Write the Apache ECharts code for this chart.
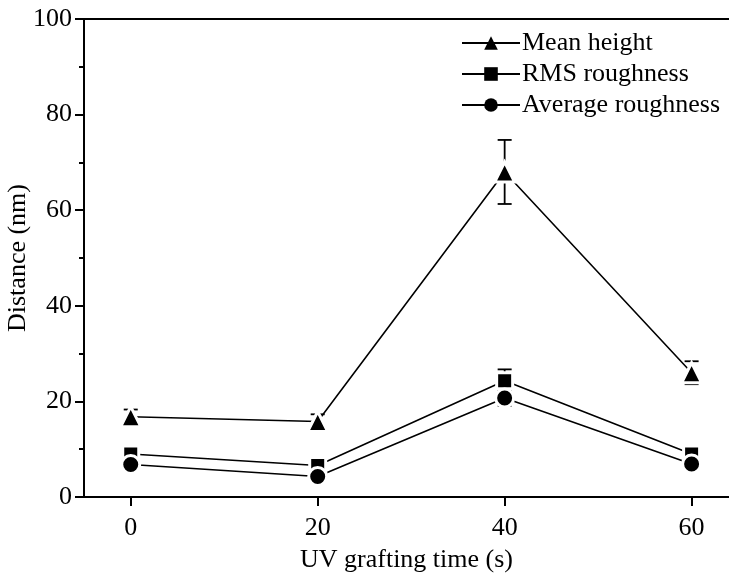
<!DOCTYPE html>
<html>
<head>
<meta charset="utf-8">
<script src="https://cdn.jsdelivr.net/npm/echarts@6/dist/echarts.min.js"></script>
<style>
    html, body { margin: 0; padding: 0; background: #fff; }
    #chart { width: 729px; height: 580px; }
</style>
</head>
<body>
<div id="chart"></div>
<script>
// UV grafting time (s)
var times = [0, 20, 40, 60];
// 平均高度 / RMS / 平均粗糙度 (nm)
var meanHeight = [16.8, 15.8, 68.0, 26.0];
var meanHeightErr = [1.5, 1.5, 6.7, 2.4];
var rmsRoughness = [9.0, 6.6, 24.3, 9.0];
var rmsRoughnessErr = [0.8, 0.8, 2.4, 0.8];
var avgRoughness = [6.8, 4.3, 20.7, 6.9];
var avgRoughnessErr = [0.6, 0.6, 1.6, 0.6];
var xTicks = [0, 20, 40, 60];

var font = 'Liberation Serif';

function pairs(ys) {
    return times.map(function (t, i) { return [t, ys[i]]; });
}
function errData(ys, errs) {
    return times.map(function (t, i) { return [t, ys[i] - errs[i], ys[i] + errs[i]]; });
}

// 误差棒
function errorSeries(ys, errs, z) {
    return {
        type: 'custom',
        z: z,
        silent: true,
        data: errData(ys, errs),
        renderItem: function (params, api) {
            var lo = api.coord([api.value(0), api.value(1)]);
            var hi = api.coord([api.value(0), api.value(2)]);
            var w = 7;
            var style = { stroke: '#000', lineWidth: 1.8 };
            return {
                type: 'group',
                children: [
                    { type: 'line', shape: { x1: lo[0], y1: lo[1], x2: hi[0], y2: hi[1] }, style: style },
                    { type: 'line', shape: { x1: lo[0] - w, y1: lo[1], x2: lo[0] + w, y2: lo[1] }, style: style },
                    { type: 'line', shape: { x1: hi[0] - w, y1: hi[1], x2: hi[0] + w, y2: hi[1] }, style: style }
                ]
            };
        }
    };
}

function lineSeries(name, ys, symbol, size) {
    return {
        name: name,
        type: 'line',
        z: 5,
        data: pairs(ys),
        symbol: symbol,
        symbolSize: size,
        showAllSymbol: true,
        lineStyle: { color: '#000', width: 1.6 },
        itemStyle: { color: '#000', borderColor: '#fff', borderWidth: 3 },
        emphasis: { disabled: true }
    };
}

var chart = echarts.init(document.getElementById('chart'));
chart.setOption({
    animation: false,
    backgroundColor: '#fff',
    grid: { left: 84, right: 0, top: 19, bottom: 83, outerBoundsMode: 'none', containLabel: false },
    legend: {
        orient: 'vertical',
        left: 456,
        top: 25,
        itemWidth: 58,
        itemHeight: 17,
        itemGap: 5,
        textStyle: { fontFamily: font, fontSize: 26, color: '#000', padding: [0, 0, 0, -3] },
        data: [
            { name: 'Mean height', itemStyle: { borderWidth: 0 } },
            { name: 'RMS roughness', itemStyle: { borderWidth: 0 } },
            { name: 'Average roughness', itemStyle: { borderWidth: 0 } }
        ]
    },
    xAxis: [{
        type: 'value',
        min: -5,
        max: 64,
        name: 'UV grafting time (s)',
        nameLocation: 'middle',
        nameGap: 50,
        nameMoveOverlap: false,
        nameTextStyle: { fontFamily: font, fontSize: 26, color: '#000' },
        axisLine: { onZero: false, lineStyle: { color: '#000', width: 2 } },
        axisTick: { show: true, length: 9, customValues: xTicks, lineStyle: { color: '#000', width: 2 } },
        axisLabel: { customValues: xTicks, margin: 18, fontFamily: font, fontSize: 26, color: '#000' },
        splitLine: { show: false }
    }, {
        type: 'value',
        position: 'top',
        min: -5,
        max: 64,
        axisLine: { show: true, onZero: false, lineStyle: { color: '#000', width: 2 } },
        axisTick: { show: false },
        axisLabel: { show: false },
        splitLine: { show: false }
    }],
    yAxis: {
        type: 'value',
        min: 0,
        max: 100,
        interval: 20,
        name: 'Distance (nm)',
        nameLocation: 'middle',
        nameGap: 53,
        nameMoveOverlap: false,
        nameTextStyle: { fontFamily: font, fontSize: 26, color: '#000' },
        axisLine: { show: true, onZero: false, lineStyle: { color: '#000', width: 2 } },
        axisTick: { show: true, length: 9, lineStyle: { color: '#000', width: 2 } },
        minorTick: { show: true, splitNumber: 2, length: 5, lineStyle: { color: '#000', width: 2 } },
        axisLabel: { margin: 12, fontFamily: font, fontSize: 26, color: '#000' },
        splitLine: { show: false }
    },
    series: [
        errorSeries(meanHeight, meanHeightErr, 3),
        errorSeries(rmsRoughness, rmsRoughnessErr, 3),
        errorSeries(avgRoughness, avgRoughnessErr, 3),
        lineSeries('Mean height', meanHeight, 'triangle', 20),
        lineSeries('RMS roughness', rmsRoughness, 'rect', 16),
        lineSeries('Average roughness', avgRoughness, 'circle', 18)
    ]
});
</script>
</body>
</html>
